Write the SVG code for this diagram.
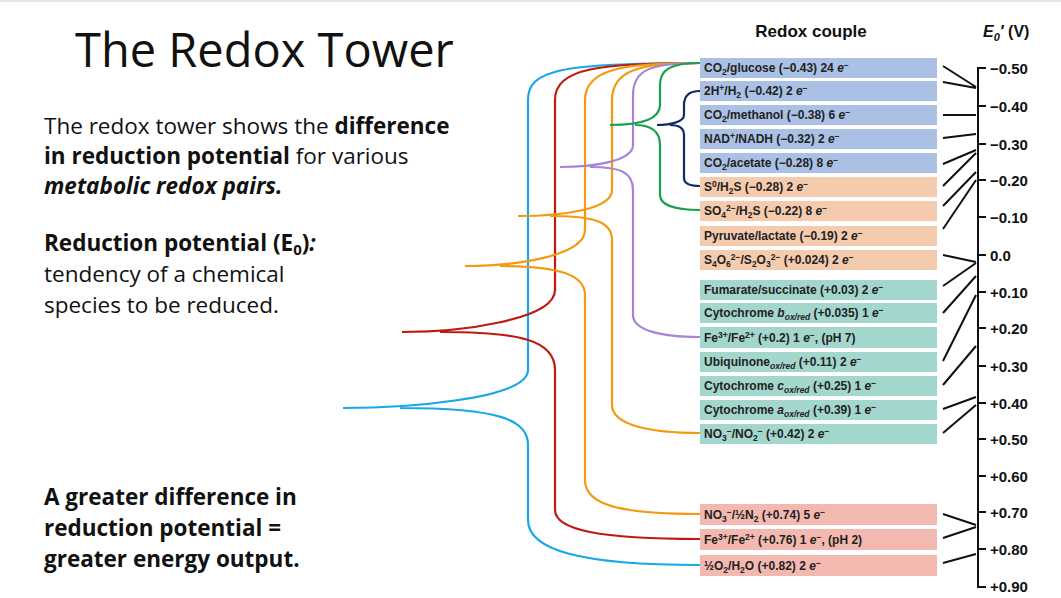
<svg xmlns="http://www.w3.org/2000/svg" width="1061" height="598" viewBox="0 0 1061 598">
<style>
.t{font-family:"Open Sans","Liberation Sans",sans-serif;font-size:22.5px;fill:#111}
.b{font-weight:bold}
.r{font-family:"Liberation Sans",Arial,sans-serif;font-size:12px;font-weight:bold;fill:#222}
.s{font-family:"Liberation Sans",Arial,sans-serif;font-size:15px;font-weight:bold;fill:#111}
.bl{fill:#aac0e4}.or{fill:#f5cbae}.te{fill:#a3d6cd}.pk{fill:#f3b9b0}
.c{fill:none;stroke-width:2.2}
.k{stroke:#111;stroke-width:2;fill:none}
.sb{font-size:8.5px;baseline-shift:-3px}
.sp{font-size:8.5px;baseline-shift:4px}
.i{font-style:italic}
</style>
<rect width="1061" height="598" fill="#fff"/>
<line x1="0" y1="1" x2="1061" y2="1" stroke="#ccc"/>
<g id="title"><text x="75" y="67" class="t" style="font-size:47px">The Redox Tower</text></g>
<g id="text">
<text x="44" y="134" class="t">The redox tower shows the <tspan class="b">difference</tspan></text>
<text x="44" y="164" class="t"><tspan class="b">in reduction potential</tspan> for various</text>
<text x="44" y="194" class="t b i">metabolic redox pairs.</text>
<text x="44" y="251" class="t b">Reduction potential (E<tspan style="font-size:15px;baseline-shift:-4px">0</tspan>)<tspan class="i">:</tspan></text>
<text x="44" y="282" class="t">tendency of a chemical</text>
<text x="44" y="313" class="t">species to be reduced.</text>
<text x="44" y="505" class="t b">A greater difference in</text>
<text x="44" y="536" class="t b">reduction potential =</text>
<text x="44" y="567" class="t b">greater energy output.</text>
</g>
<g id="headers">
<text x="811" y="37" class="s" text-anchor="middle" style="font-size:17px">Redox couple</text>
<text x="983" y="37" class="s i" style="font-size:16px">E<tspan style="font-size:11px;baseline-shift:-4px">0</tspan>′ <tspan font-style="normal">(V)</tspan></text>
</g>
<g id="rows">
<rect x="700" y="58" width="237" height="20" class="bl"/><text x="704" y="72" class="r">CO<tspan class="sb">2</tspan>/glucose (−0.43) 24 <tspan class="i">e</tspan><tspan class="sp">−</tspan></text>
<rect x="700" y="81" width="237" height="20" class="bl"/><text x="704" y="95" class="r">2H<tspan class="sp">+</tspan>/H<tspan class="sb">2</tspan> (−0.42) 2 <tspan class="i">e</tspan><tspan class="sp">−</tspan></text>
<rect x="700" y="105" width="237" height="20" class="bl"/><text x="704" y="119" class="r">CO<tspan class="sb">2</tspan>/methanol (−0.38) 6 <tspan class="i">e</tspan><tspan class="sp">−</tspan></text>
<rect x="700" y="129" width="237" height="20" class="bl"/><text x="704" y="143" class="r">NAD<tspan class="sp">+</tspan>/NADH (−0.32) 2 <tspan class="i">e</tspan><tspan class="sp">−</tspan></text>
<rect x="700" y="153" width="237" height="20" class="bl"/><text x="704" y="167" class="r">CO<tspan class="sb">2</tspan>/acetate (−0.28) 8 <tspan class="i">e</tspan><tspan class="sp">−</tspan></text>
<rect x="700" y="177" width="237" height="20" class="or"/><text x="704" y="191" class="r">S<tspan class="sp">0</tspan>/H<tspan class="sb">2</tspan>S (−0.28) 2 <tspan class="i">e</tspan><tspan class="sp">−</tspan></text>
<rect x="700" y="201" width="237" height="20" class="or"/><text x="704" y="215" class="r">SO<tspan class="sb">4</tspan><tspan class="sp">2−</tspan>/H<tspan class="sb">2</tspan>S (−0.22) 8 <tspan class="i">e</tspan><tspan class="sp">−</tspan></text>
<rect x="700" y="226" width="237" height="20" class="or"/><text x="704" y="240" class="r">Pyruvate/lactate (−0.19) 2 <tspan class="i">e</tspan><tspan class="sp">−</tspan></text>
<rect x="700" y="250" width="237" height="20" class="or"/><text x="704" y="264" class="r">S<tspan class="sb">4</tspan>O<tspan class="sb">6</tspan><tspan class="sp">2−</tspan>/S<tspan class="sb">2</tspan>O<tspan class="sb">3</tspan><tspan class="sp">2−</tspan> (+0.024) 2 <tspan class="i">e</tspan><tspan class="sp">−</tspan></text>
<rect x="700" y="280" width="237" height="20" class="te"/><text x="704" y="294" class="r">Fumarate/succinate (+0.03) 2 <tspan class="i">e</tspan><tspan class="sp">−</tspan></text>
<rect x="700" y="303" width="237" height="20" class="te"/><text x="704" y="317" class="r">Cytochrome <tspan class="i">b</tspan><tspan class="sb i">ox/red</tspan> (+0.035) 1 <tspan class="i">e</tspan><tspan class="sp">−</tspan></text>
<rect x="700" y="327" width="237" height="21" class="te"/><text x="704" y="342" class="r">Fe<tspan class="sp">3+</tspan>/Fe<tspan class="sp">2+</tspan> (+0.2) 1 <tspan class="i">e</tspan><tspan class="sp">−</tspan>, (pH 7)</text>
<rect x="700" y="352" width="237" height="20" class="te"/><text x="704" y="366" class="r">Ubiquinone<tspan class="sb i">ox/red</tspan> (+0.11) 2 <tspan class="i">e</tspan><tspan class="sp">−</tspan></text>
<rect x="700" y="376" width="237" height="20" class="te"/><text x="704" y="390" class="r">Cytochrome <tspan class="i">c</tspan><tspan class="sb i">ox/red</tspan> (+0.25) 1 <tspan class="i">e</tspan><tspan class="sp">−</tspan></text>
<rect x="700" y="400" width="237" height="20" class="te"/><text x="704" y="414" class="r">Cytochrome <tspan class="i">a</tspan><tspan class="sb i">ox/red</tspan> (+0.39) 1 <tspan class="i">e</tspan><tspan class="sp">−</tspan></text>
<rect x="700" y="424" width="237" height="20" class="te"/><text x="704" y="438" class="r">NO<tspan class="sb">3</tspan><tspan class="sp">−</tspan>/NO<tspan class="sb">2</tspan><tspan class="sp">−</tspan> (+0.42) 2 <tspan class="i">e</tspan><tspan class="sp">−</tspan></text>
<rect x="700" y="504" width="237" height="21" class="pk"/><text x="704" y="519" class="r">NO<tspan class="sb">3</tspan><tspan class="sp">−</tspan>/½N<tspan class="sb">2</tspan> (+0.74) 5 <tspan class="i">e</tspan><tspan class="sp">−</tspan></text>
<rect x="700" y="529" width="237" height="21" class="pk"/><text x="704" y="544" class="r">Fe<tspan class="sp">3+</tspan>/Fe<tspan class="sp">2+</tspan> (+0.76) 1 <tspan class="i">e</tspan><tspan class="sp">−</tspan>, (pH 2)</text>
<rect x="700" y="555" width="237" height="21" class="pk"/><text x="704" y="570" class="r">½O<tspan class="sb">2</tspan>/H<tspan class="sb">2</tspan>O (+0.82) 2 <tspan class="i">e</tspan><tspan class="sp">−</tspan></text>
</g>
<g id="scale">
<path class="k" d="M986,68 H978 V587 H986"/>
<path class="k" d="M978,106 H986 M978,144 H986 M978,180 H986 M978,217 H986 M978,255 H986 M978,292 H986 M978,328 H986 M978,366 H986 M978,403 H986 M978,439 H986 M978,476 H986 M978,512 H986 M978,549 H986"/>
<g class="s">
<text x="990" y="74">−0.50</text><text x="990" y="112">−0.40</text><text x="990" y="150">−0.30</text><text x="990" y="186">−0.20</text><text x="990" y="223">−0.10</text><text x="990" y="261">0.0</text><text x="990" y="298">+0.10</text><text x="990" y="334">+0.20</text><text x="990" y="372">+0.30</text><text x="990" y="409">+0.40</text><text x="990" y="445">+0.50</text><text x="990" y="482">+0.60</text><text x="990" y="518">+0.70</text><text x="990" y="555">+0.80</text><text x="990" y="592">+0.90</text>
</g>
</g>
<g id="connectors">
<g class="k">
<path d="M943,66 L976,87 M943,82 L976,88 M943,115 L976,115 M943,138 L976,134 M943,164 L976,150 M943,186 L976,153 M943,206 L976,172 M943,229 L976,180 M943,255 L976,262 M943,286 L976,263 M943,313 L976,276 M943,361 L976,295 M943,385 L976,346 M943,409 L976,397 M943,433 L976,405 M943,514 L976,525 M943,538 L976,527 M943,563 L976,554"/>
</g>
<path class="c" stroke="#19a7e6" d="M700,63 C560,63 528,70 528,100 V370 C528,400 400,408 343,408 M400,408 C500,408 528,420 528,445 V520 C528,550 580,565 700,565"/>
<path class="c" stroke="#c0190f" d="M700,63 C600,63 555,68 555,100 V290 C555,320 460,332 402,332 M440,332 C520,332 555,340 555,370 V510 C555,530 600,539 700,539"/>
<path class="c" stroke="#f29a12" d="M700,63 C620,63 585,70 585,100 V230 C585,255 520,266 465,266 M500,266 C560,266 585,275 585,295 V480 C585,505 620,514 700,514"/>
<path class="c" stroke="#f29a12" d="M700,63 C640,63 612,70 612,100 V190 C612,210 560,216 518,216 M550,216 C595,216 612,222 612,240 V405 C612,425 650,433 700,433"/>
<path class="c" stroke="#a884d8" d="M700,63 C650,63 633,70 633,95 V145 C633,162 590,167 560,167 M590,167 C620,167 633,172 633,190 V315 C633,330 660,337 700,337"/>
<path class="c" stroke="#17a050" d="M700,63 C670,63 660,70 660,85 V105 C660,120 640,125 610,125 M635,125 C650,125 660,130 660,145 V195 C660,205 675,210 700,210"/>
<path class="c" stroke="#102a6a" d="M700,91 C690,91 684,95 684,105 V115 C684,122 670,125 657,125 M670,125 C678,125 684,128 684,135 V178 C684,184 690,186 700,186"/>
</g>
</svg>
